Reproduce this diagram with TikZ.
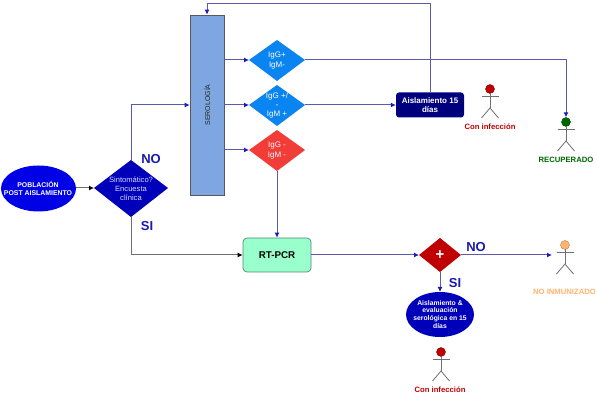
\documentclass[tikz,border=0pt]{standalone}
\usepackage{fontspec}
\setmainfont{Liberation Sans}
\usetikzlibrary{shapes.geometric,arrows.meta}
\definecolor{linkb}{HTML}{5A5AAE}
\definecolor{linkg}{HTML}{707070}
\definecolor{tipb}{HTML}{1A1AC0}
\definecolor{navyb}{HTML}{00007F}
\definecolor{deepb}{HTML}{0000BB}
\definecolor{brightb}{HTML}{0000E6}
\definecolor{skyb}{HTML}{0A84F0}
\definecolor{redd}{HTML}{F23C38}
\definecolor{crim}{HTML}{C00000}
\definecolor{serob}{HTML}{7EA6E0}
\definecolor{mint}{HTML}{99FFCC}
\definecolor{dgreen}{HTML}{006600}
\definecolor{peach}{HTML}{FFB570}
\definecolor{lblb}{HTML}{1A1AB0}
\tikzset{
  x=1pt,y=-1pt,
  every node/.style={font=\fontsize{8}{9.2}\selectfont, inner sep=0pt, align=center},
  link/.style={draw=linkb, line width=1pt, -{Latex[length=5pt,width=5pt,color=tipb]}},
  glink/.style={draw=linkg, line width=1pt, -{Latex[length=5pt,width=5pt,color=black]}},
  bigl/.style={font=\bfseries\fontsize{13}{14}\selectfont, text=lblb},
  actorlabel/.style={font=\bfseries\fontsize{7.7}{9}\selectfont},
  stick/.style={draw=linkg, line width=.8pt},
  headc/.style={circle, minimum size=9pt, draw=#1!70!black, fill=#1, line width=.4pt}
}
\newcommand{\stickfig}[4]{% name, x, y of head centre, colour
  \node[headc=#4] (#1) at (#2,#3) {};
  \coordinate (#1n) at (#2,#3+4.5);
  \coordinate (#1h) at (#2,#3+19);
  \draw[stick] (#1n) -- (#1h);
  \draw[stick] (#2-8.5,#3+7) -- (#2+8.5,#3+7);
  \draw[stick] (#2-8.5,#3+29) -- (#1h) -- (#2+8.5,#3+29);
}
\begin{document}
\begin{tikzpicture}
\useasboundingbox (0,0) rectangle (597,403);
\fill[white] (0,0) rectangle (597,403);

% shapes
\fill[brightb] (38.5,188.5) ellipse [x radius=37.5, y radius=23];
\node[text=white, font=\bfseries\fontsize{6.9}{8}\selectfont] (pop) at (38,188) {POBLACIÓN\\POST AISLAMIENTO};
\coordinate (pope) at (76,188);
\path[fill=deepb] (94,188) -- (131,160) -- (168,188) -- (131,217) -- cycle;
\coordinate (dl) at (94,188);\coordinate (dt) at (131,160);\coordinate (db) at (131,217);
\node[text=white!85!blue, font=\fontsize{7.6}{9}\selectfont] (sint) at (131,189) {Sintomático?\\Encuesta\\clínica};

\node[draw=black!65, line width=.7pt, fill=serob, minimum width=34pt, minimum height=180pt, anchor=center] (sero) at (207,105) {};
\node[rotate=90, text=black!85, font=\fontsize{7}{8}\selectfont] at (207,105) {SEROLOGÍA};

\path[fill=skyb] (249,60) -- (277,40) -- (305,60) -- (277,81) -- cycle;
\node[text=white] (d1) at (277,60.5) {IgG+\\IgM-};
\path[fill=skyb] (249,105) -- (277,85) -- (305,105) -- (277,126) -- cycle;
\node[text=white, font=\fontsize{8}{9}\selectfont] (d2) at (277,105.5) {IgG +/\\-\\IgM +};
\path[fill=redd] (249,150) -- (277,130) -- (305,150) -- (277,171) -- cycle;
\node[text=white] (d3) at (277,150.5) {IgG -\\IgM -};
\coordinate (d1l) at (249,60);\coordinate (d1r) at (305,60);
\coordinate (d2l) at (249,105);\coordinate (d2r) at (305,105);
\coordinate (d3l) at (249,150);\coordinate (d3b) at (277,171);

\node[rounded corners=3pt, fill=navyb, minimum width=68pt, minimum height=25pt, text=white, font=\bfseries\fontsize{8}{9.2}\selectfont] (ais) at (430,105) {Aislamiento 15\\días};
\node[rounded corners=4pt, draw=black!45!mint, line width=.7pt, fill=mint, minimum width=68pt, minimum height=34pt, font=\bfseries\fontsize{9.8}{11}\selectfont] (pcr) at (277,255) {RT-PCR};

\path[fill=crim] (419,255) -- (440,238) -- (461,255) -- (440,272) -- cycle;
\node[text=white, font=\bfseries\fontsize{15}{15}\selectfont] (plus) at (440,255) {+};
\coordinate (pl) at (419,255);\coordinate (pr) at (461,255);\coordinate (pb) at (440,272);

\fill[deepb] (440,314.5) ellipse [x radius=34, y radius=22.5];
\coordinate (evan) at (440,292);
\node[text=white, font=\bfseries\fontsize{6.8}{7.9}\selectfont] (eva) at (440,314.5) {Aislamiento \&\\evaluación\\serológica en 15\\días};

% actors
\stickfig{a1}{490}{89}{crim}
\node[actorlabel, text=crim] (l1) at (490,127) {Con infección};
\stickfig{a2}{566}{122}{dgreen}
\node[actorlabel, text=dgreen] (l2) at (566,160) {RECUPERADO};
\stickfig{a3}{565}{245}{peach}
\node[actorlabel, text=peach] (l3) at (564.5,292) {NO INMUNIZADO};
\stickfig{a4}{441}{352}{crim}
\node[actorlabel, text=crim] (l4) at (440,390) {Con infección};
\coordinate (a3e) at (552,255);

% connectors
\draw[glink] (pope) -- (dl);
\draw[link] (dt) |- (sero.west |- 0,105);
\draw[glink] (db) |- (pcr.west);
\draw[link] (sero.east |- d1l) -- (d1l);
\draw[link] (sero.east |- d2l) -- (d2l);
\draw[link] (sero.east |- d3l) -- (d3l);
\draw[link] (d1r) -| (a2.north);
\draw[link] (d2r) -- (ais.west);
\draw[link] (ais.north) -- (430,4) -| (sero.north);
\draw[link] (d3b) -- (pcr.north);
\draw[link] (pcr.east) -- (pl);
\draw[link] (pr) -- (a3e);
\draw[link] (pb) -- (evan);

% branch labels
\node[bigl] (no1) at (151,159.5) {NO};
\node[bigl] (si1) at (147,226) {SI};
\node[bigl] (no2) at (476,247) {NO};
\node[bigl] (si2) at (455,283) {SI};
\end{tikzpicture}
\end{document}
